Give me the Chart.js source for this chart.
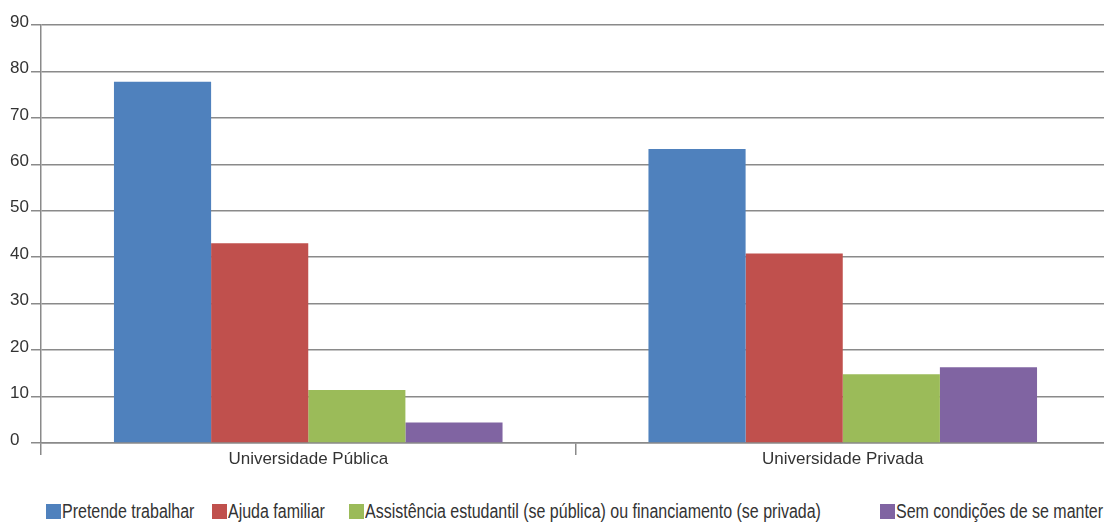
<!DOCTYPE html>
<html>
<head>
<meta charset="utf-8">
<script src="https://cdn.jsdelivr.net/npm/chart.js@4"></script>
<style>
  html, body { margin: 0; padding: 0; background: #fff; overflow: hidden; }
  #wrap { position: relative; width: 1104px; height: 528px; }
  #chart-box { position: absolute; left: 0; top: 0; width: 1110px; height: 480px; }
  #legend { position: absolute; left: 0; top: 500px; width: 1104px; height: 24px; }
  .item { position: absolute; top: 0; display: flex; align-items: center; white-space: nowrap; }
  .swatch { width: 15px; height: 15px; margin-right: 1px; flex: none; }
  .text { display: inline-block; transform: scaleX(0.82); transform-origin: left center;
          font-family: 'Liberation Sans', Arial, sans-serif; font-size: 19.5px; color: #333; }
</style>
</head>
<body>
<div id="wrap">
  <div id="chart-box"><canvas id="main-chart" width="1110" height="480"></canvas></div>
  <div id="legend"></div>
</div>
<script>
const categories = ['Universidade Pública', 'Universidade Privada'];
const seriesNames = [
  'Pretende trabalhar',
  'Ajuda familiar',
  'Assistência estudantil (se pública) ou financiamento (se privada)',
  'Sem condições de se manter'
];
const pretendeTrabalhar = [77.8, 63.3];
const ajudaFamiliar = [43.0, 40.8];
const assistencia = [11.4, 14.8];
const semCondicoes = [4.4, 16.3];
const seriesColors = ['#4F81BD', '#C0504D', '#9BBB59', '#8064A2'];
const legendLeft = [46, 212, 349, 880];

const fontFamily = "'Liberation Sans', Arial, sans-serif";
const gridGray = '#8a8a8a';

const seriesValues = [pretendeTrabalhar, ajudaFamiliar, assistencia, semCondicoes];

const mainChart = new Chart(document.getElementById('main-chart'), {
  type: 'bar',
  data: {
    labels: categories,
    datasets: seriesValues.map((values, i) => ({
      label: seriesNames[i],
      data: values,
      backgroundColor: seriesColors[i],
      borderWidth: 0,
      barPercentage: 1,
      categoryPercentage: 0.727
    }))
  },
  options: {
    responsive: false,
    animation: false,
    layout: { padding: { left: 10, top: 25, right: 0, bottom: 0 } },
    plugins: {
      legend: { display: false },
      tooltip: { enabled: false }
    },
    scales: {
      x: {
        grid: {
          offset: true,
          drawOnChartArea: false,
          color: gridGray,
          lineWidth: 1.5,
          tickLength: 12
        },
        border: { display: true, color: gridGray, width: 1.5 },
        ticks: {
          padding: -6,
          color: '#333',
          font: { family: fontFamily, size: 17 }
        },
        afterFit: (scale) => { scale.height = 37; }
      },
      y: {
        min: 0,
        max: 90,
        grid: {
          color: gridGray,
          lineWidth: 1.5,
          tickLength: 10
        },
        border: { display: true, color: gridGray, width: 1.5 },
        ticks: {
          stepSize: 10,
          crossAlign: 'far',
          labelOffset: -3,
          color: '#333',
          font: { family: fontFamily, size: 17 }
        },
        afterFit: (scale) => { scale.width = 31; }
      }
    }
  }
});

// legend built as plain markup so each entry can sit where it belongs
const legendEl = document.getElementById('legend');
seriesNames.forEach((name, i) => {
  const item = document.createElement('div');
  item.className = 'item';
  item.style.left = legendLeft[i] + 'px';
  const swatch = document.createElement('span');
  swatch.className = 'swatch';
  swatch.style.background = seriesColors[i];
  const text = document.createElement('span');
  text.className = 'text';
  text.textContent = name;
  item.appendChild(swatch);
  item.appendChild(text);
  legendEl.appendChild(item);
});
</script>
</body>
</html>
